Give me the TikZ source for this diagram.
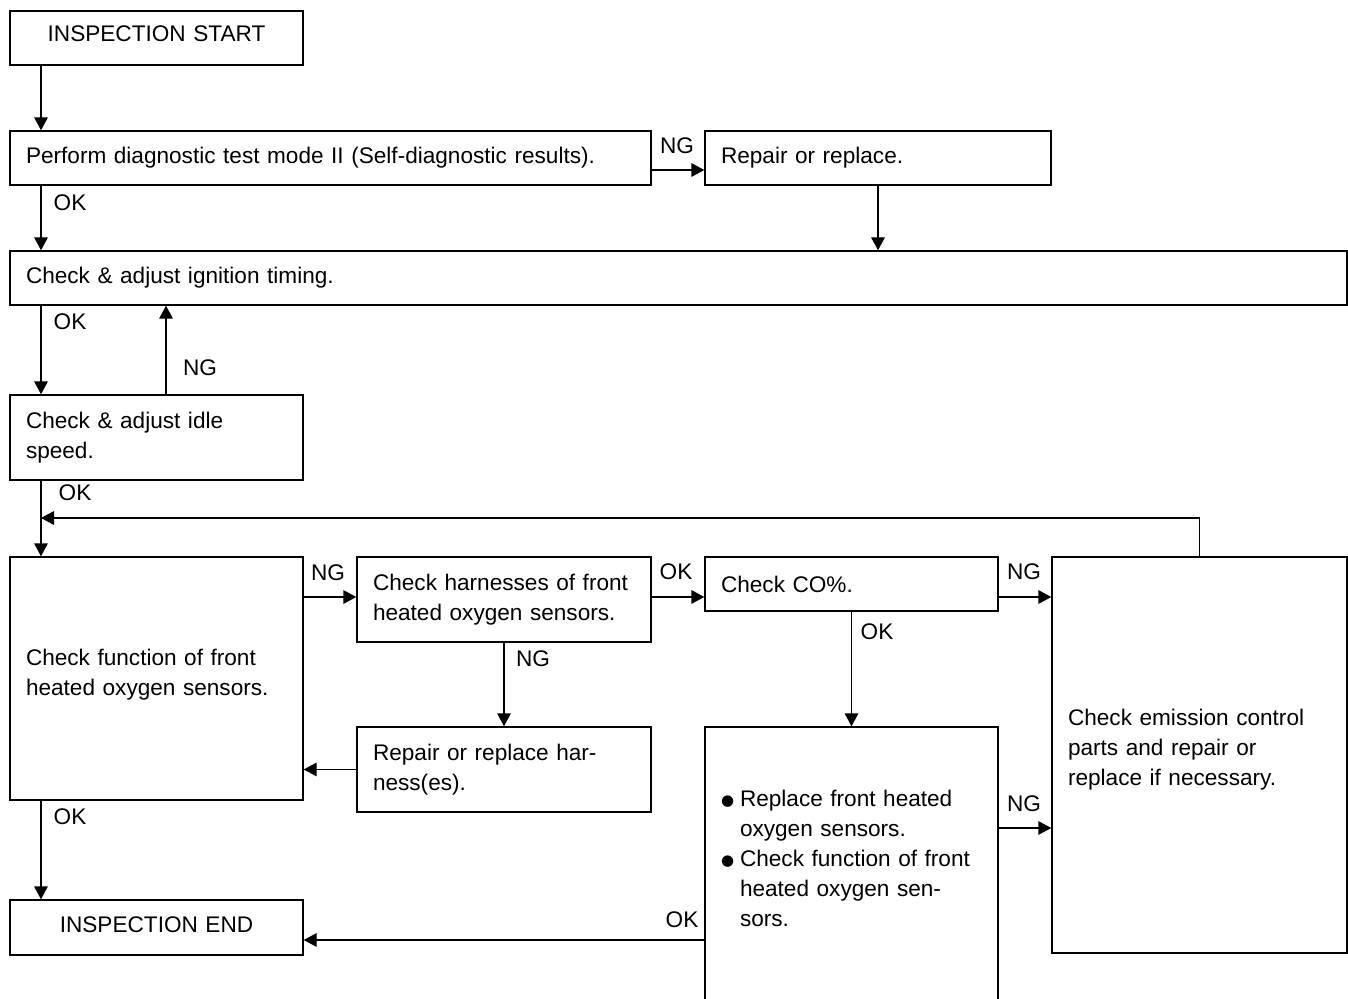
\documentclass[tikz,border=0pt]{standalone}
\usepackage{fontspec}
\setmainfont{Liberation Sans}
\newfontfamily\symfont{DejaVu Sans}
\usetikzlibrary{arrows.meta}

\newcommand{\blt}{\makebox[9.5pt][l]{\raisebox{0.3pt}{\symfont\fontsize{7.5}{7.5}\selectfont ●}}}
\newcommand{\lift}[1]{\par\kern#1\relax}

\tikzset{
	box/.style={draw, line width=0.7pt, align=left, inner xsep=8pt, inner ysep=0pt,
		font=\fontsize{11.3}{15}\selectfont},
	lbl/.style={inner sep=0pt, font=\fontsize{11.3}{15}\selectfont},
	arr/.style={-{Triangle[length=6.5pt, width=6.8pt]}, line width=0.7pt}
}

\begin{document}
\begin{tikzpicture}[x=0.5pt, y=-0.5pt]
	
	% 1. Khung hình
	\clip (0,0) rectangle (1348,999);
	\fill[white] (0,0) rectangle (1348,999);
	
	% 2. Các hộp
	\node[box, align=center, minimum width=146.5pt, text width=130.5pt, minimum height=27pt] (start) at (156.5,38) {INSPECTION START\lift{4pt}};
	\node[box, minimum width=320.5pt, text width=304.5pt, minimum height=27pt] (perform) at (330.5,158) {Perform diagnostic test mode II (Self-diagnostic results).};
	\node[box, minimum width=173pt, text width=157pt, minimum height=27pt] (repair) at (878,158) {Repair or replace.};
	\node[box, minimum width=668.5pt, text width=652.5pt, minimum height=27pt] (ignition) at (678.5,278) {Check \& adjust ignition timing.};
	\node[box, minimum width=146.5pt, text width=130.5pt, minimum height=42.5pt] (idle) at (156.5,437.5) {Check \& adjust idle\\speed.};
	\node[box, minimum width=146.5pt, text width=130.5pt, minimum height=121.5pt] (func) at (156.5,678.5) {Check function of front\\heated oxygen sensors.\lift{4pt}};
	\node[box, minimum width=147pt, text width=131pt, minimum height=42.5pt] (harness) at (504,599.5) {Check harnesses of front\\heated oxygen sensors.};
	\node[box, minimum width=146.5pt, text width=130.5pt, minimum height=27pt] (co) at (851.5,584) {Check CO\%.};
	\node[box, minimum width=147.5pt, text width=131.5pt, minimum height=198pt] (emis) at (1199.5,755) {Check emission control\\parts and repair or\\replace if necessary.\lift{5.5pt}};
	\node[box, minimum width=147pt, text width=131pt, minimum height=42.5pt] (hrep) at (504,769.5) {Repair or replace har-\\ness(es).};
	\node[box, minimum width=146.5pt, text width=130.5pt, minimum height=137.5pt] (repl) at (851.5,864.5) {\blt Replace front heated\\\hspace*{9.5pt}oxygen sensors.\\\blt Check function of front\\\hspace*{9.5pt}heated oxygen sen-\\\hspace*{9.5pt}sors.\lift{6.5pt}};
	\node[box, align=center, minimum width=146.5pt, text width=130.5pt, minimum height=27.5pt] (end) at (156.5,927.5) {INSPECTION END\lift{3pt}};
	
	% 3. Tọa độ phụ cho các đường nối
	\coordinate (c41) at (41,0);
	\coordinate (c166) at (166,0);
	\coordinate (r170) at (0,170);
	\coordinate (r597) at (0,597);
	\coordinate (r828) at (0,828);
	\coordinate (r940) at (0,940);
	\coordinate (loop) at (41,518);
	
	% 4. Mũi tên
	\draw[arr] (start.south -| c41) -- (perform.north -| c41);
	\draw[arr] (perform.east |- r170) -- (repair.west |- r170);
	\draw[arr] (perform.south -| c41) -- (ignition.north -| c41);
	\draw[arr] (repair.south) -- (ignition.north -| repair.south);
	\draw[arr] (ignition.south -| c41) -- (idle.north -| c41);
	\draw[arr] (idle.north -| c166) -- (ignition.south -| c166);
	\draw[arr] (idle.south -| c41) -- (func.north -| c41);
	\draw[arr] (emis.north) |- (loop);
	\draw[arr] (func.east |- r597) -- (harness.west |- r597);
	\draw[arr] (harness.east |- r597) -- (co.west |- r597);
	\draw[arr] (co.east |- r597) -- (emis.west |- r597);
	\draw[arr] (co.south) -- (repl.north);
	\draw[arr] (harness.south) -- (hrep.north);
	\draw[arr] (hrep.west) -- (func.east |- hrep.west);
	\draw[arr] (func.south -| c41) -- (end.north -| c41);
	\draw[arr] (repl.east |- r828) -- (emis.west |- r828);
	\draw[arr] (repl.west |- r940) -- (end.east |- r940);
	
	% 5. Nhãn OK / NG
	\node[lbl] (ng1) at (677,146) {NG};
	\node[lbl] (ok1) at (70,203) {OK};
	\node[lbl] (ok2) at (70,322) {OK};
	\node[lbl] (ng2) at (200,368) {NG};
	\node[lbl] (ok3) at (75,493) {OK};
	\node[lbl] (ng3) at (328,573) {NG};
	\node[lbl] (ok4) at (676,572) {OK};
	\node[lbl] (ng4) at (1024,572) {NG};
	\node[lbl] (ok5) at (877,632) {OK};
	\node[lbl] (ng5) at (533,659) {NG};
	\node[lbl] (ok6) at (70,817) {OK};
	\node[lbl] (ng6) at (1024,804) {NG};
	\node[lbl] (ok7) at (682,920) {OK};
	
\end{tikzpicture}
\end{document}
